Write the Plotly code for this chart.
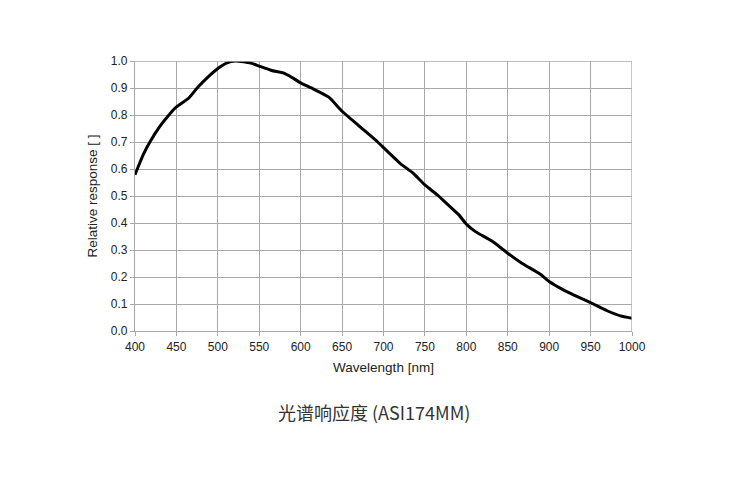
import plotly.graph_objects as go

wavelength = [400, 410, 418, 430, 442, 450, 465, 475, 489, 500, 511, 521, 531, 540, 550,
              565, 579, 589, 600, 615, 634, 650, 671, 693, 700, 720, 736, 750, 765, 777,
              791, 800, 811, 831, 850, 867, 889, 900, 916, 930, 950, 970, 986, 1000]
response = [0.579, 0.653, 0.700, 0.758, 0.804, 0.830, 0.863, 0.900, 0.943, 0.972, 0.993,
            1.000, 0.997, 0.992, 0.981, 0.965, 0.956, 0.940, 0.919, 0.897, 0.866, 0.814,
            0.758, 0.700, 0.679, 0.621, 0.584, 0.541, 0.504, 0.470, 0.430, 0.396, 0.368,
            0.333, 0.288, 0.251, 0.211, 0.183, 0.154, 0.133, 0.105, 0.075, 0.056, 0.047]

x_ticks = list(range(400, 1001, 50))
y_ticks = [i / 10 for i in range(11)]

# the page body has an 8px margin, so figure coords = page coords - 8
L, R, T, B = 127, 126, 53, 177

fig = go.Figure()
fig.add_trace(go.Scatter(x=wavelength, y=response, mode="lines",
                         line=dict(color="black", width=3, shape="spline", smoothing=0.5),
                         showlegend=False, hoverinfo="skip"))

grid = "#a8a8a8"
fig.update_layout(
    width=750, height=500,
    margin=dict(l=L, r=R, t=T, b=B),
    paper_bgcolor="white", plot_bgcolor="white",
    font=dict(family="Liberation Sans, Arial, sans-serif", size=12, color="#222"),
    xaxis=dict(range=[400, 1000], tickvals=x_ticks, ticktext=[str(v) for v in x_ticks],
               showgrid=True, gridcolor=grid, gridwidth=1.3,
               showline=True, linecolor=grid, linewidth=1.3,
               ticks="outside", ticklen=4, tickcolor=grid,
               tickfont=dict(size=12), zeroline=False,
               title=dict(text="Wavelength [nm]", font=dict(size=13.5), standoff=10)),
    yaxis=dict(range=[0, 1.0], tickvals=y_ticks, ticktext=[f"{v:.1f}" for v in y_ticks],
               showgrid=True, gridcolor=grid, gridwidth=1.3,
               showline=True, linecolor=grid, linewidth=1.3,
               ticks="outside", ticklen=4, tickcolor=grid,
               tickfont=dict(size=12), zeroline=False,
               title=dict(text="Relative response [ ]", font=dict(size=13.5), standoff=10)),
)
plot_h = 500 - T - B
plot_w = 750 - L - R
fig.add_annotation(text="光谱响应度 (ASI174MM)", showarrow=False,
                   xref="paper", yref="paper",
                   x=(374 - 8 - L) / plot_w, y=(500 - B - (412 - 8)) / plot_h,
                   xanchor="center", yanchor="middle",
                   font=dict(family="Noto Sans CJK SC", size=18, color="#333"))
fig.add_shape(type="line", xref="x", yref="paper", x0=1000, x1=1000, y0=0, y1=1,
              line=dict(color=grid, width=1.3))
fig.add_shape(type="line", xref="paper", yref="y", x0=0, x1=1, y0=1.0, y1=1.0,
              line=dict(color=grid, width=1.3))

fig.write_html("out.html")
